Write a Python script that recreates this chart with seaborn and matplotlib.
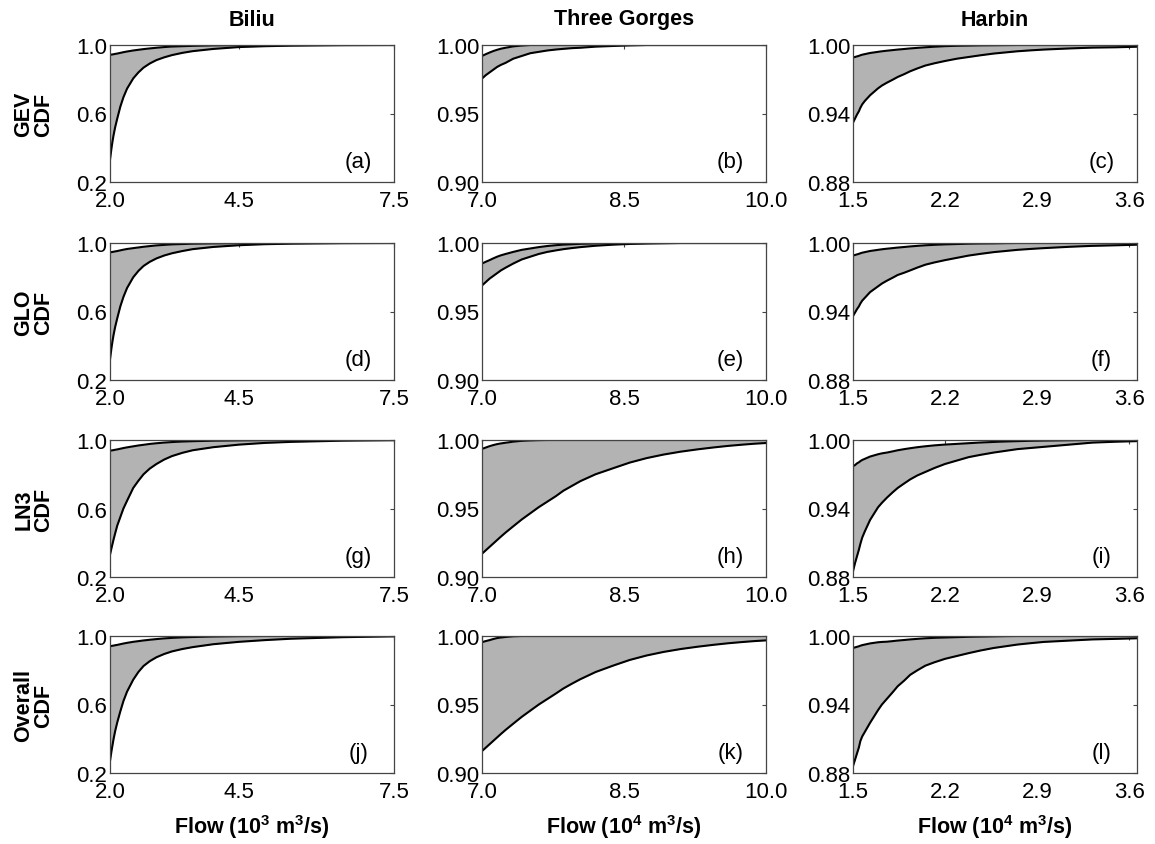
import matplotlib
matplotlib.use("Agg")
import matplotlib.pyplot as plt
import seaborn as sns

# ---------------- data ----------------
stations = ["Biliu", "Three Gorges", "Harbin"]
models = ["GEV", "GLO", "LN3", "Overall"]
panel_tags = ["(a)", "(b)", "(c)", "(d)", "(e)", "(f)",
              "(g)", "(h)", "(i)", "(j)", "(k)", "(l)"]
xlabels = ["Flow (10$^\\mathbf{3}$ m$^\\mathbf{3}$/s)",
           "Flow (10$^\\mathbf{4}$ m$^\\mathbf{3}$/s)",
           "Flow (10$^\\mathbf{4}$ m$^\\mathbf{3}$/s)"]

x_biliu = [2.0, 2.015, 2.03, 2.05, 2.07, 2.1, 2.14, 2.2, 2.26, 2.33, 2.45, 2.55, 2.65, 2.77, 2.9, 3.05, 3.2, 3.4, 3.6, 4.0, 4.5, 5.0, 5.5, 6.5, 7.5]
x_tg = [7.0, 7.04, 7.08, 7.12, 7.16, 7.2, 7.25, 7.33, 7.42, 7.51, 7.6, 7.69, 7.78, 7.86, 7.95, 8.04, 8.2, 8.39, 8.56, 8.74, 8.92, 9.1, 9.28, 9.45, 9.6, 9.75, 9.88, 10.0]
x_harbin = [1.5, 1.515, 1.53, 1.545, 1.556, 1.57, 1.59, 1.61, 1.63, 1.66, 1.69, 1.72, 1.758, 1.8, 1.84, 1.89, 1.935, 1.99, 2.05, 2.12, 2.2, 2.29, 2.38, 2.47, 2.57, 2.66, 2.75, 2.85, 2.95, 3.15, 3.32, 3.5, 3.66]

# Biliu
gev_biliu_lo = [0.33, 0.365, 0.40, 0.44, 0.475, 0.52, 0.57, 0.64, 0.695, 0.745, 0.805, 0.84, 0.868, 0.892, 0.912, 0.928, 0.941, 0.954, 0.964, 0.977, 0.988, 0.993, 0.996, 0.999, 1.0]
gev_biliu_hi = [0.942, 0.943, 0.944, 0.945, 0.946, 0.948, 0.950, 0.954, 0.958, 0.962, 0.968, 0.972, 0.976, 0.980, 0.984, 0.988, 0.991, 0.993, 0.995, 0.998, 0.999, 1.0, 1.0, 1.0, 1.0]
glo_biliu_lo = [0.32, 0.355, 0.39, 0.43, 0.465, 0.51, 0.56, 0.63, 0.685, 0.737, 0.80, 0.837, 0.866, 0.89, 0.91, 0.927, 0.940, 0.953, 0.964, 0.977, 0.987, 0.993, 0.996, 0.999, 1.0]
glo_biliu_hi = [0.945, 0.946, 0.947, 0.948, 0.949, 0.951, 0.953, 0.957, 0.961, 0.965, 0.970, 0.974, 0.978, 0.982, 0.986, 0.989, 0.992, 0.994, 0.996, 0.998, 0.999, 1.0, 1.0, 1.0, 1.0]
ln3_biliu_lo = [0.33, 0.35, 0.37, 0.395, 0.42, 0.455, 0.50, 0.55, 0.60, 0.645, 0.72, 0.762, 0.80, 0.833, 0.86, 0.886, 0.906, 0.925, 0.94, 0.958, 0.973, 0.983, 0.989, 0.996, 0.999]
ln3_biliu_hi = [0.937, 0.938, 0.939, 0.940, 0.941, 0.943, 0.945, 0.949, 0.953, 0.957, 0.963, 0.968, 0.972, 0.977, 0.981, 0.985, 0.988, 0.991, 0.993, 0.996, 0.998, 0.999, 1.0, 1.0, 1.0]
all_biliu_lo = [0.27, 0.30, 0.33, 0.365, 0.40, 0.445, 0.495, 0.56, 0.62, 0.675, 0.745, 0.79, 0.825, 0.853, 0.876, 0.895, 0.91, 0.924, 0.935, 0.952, 0.966, 0.976, 0.984, 0.993, 0.998]
all_biliu_hi = [0.94, 0.941, 0.942, 0.943, 0.944, 0.946, 0.948, 0.952, 0.956, 0.960, 0.966, 0.970, 0.974, 0.978, 0.982, 0.986, 0.989, 0.992, 0.994, 0.997, 0.999, 1.0, 1.0, 1.0, 1.0]

# Three Gorges
gev_tg_lo = [0.9755, 0.978, 0.980, 0.982, 0.984, 0.9855, 0.987, 0.990, 0.992, 0.994, 0.995, 0.996, 0.9967, 0.9972, 0.9977, 0.998, 0.9988, 0.9993, 0.9997, 1.0, 1.0, 1.0, 1.0, 1.0, 1.0, 1.0, 1.0, 1.0]
gev_tg_hi = [0.992, 0.9933, 0.9945, 0.9956, 0.9965, 0.9973, 0.998, 0.999, 0.9996, 1.0, 1.0, 1.0, 1.0, 1.0, 1.0, 1.0, 1.0, 1.0, 1.0, 1.0, 1.0, 1.0, 1.0, 1.0, 1.0, 1.0, 1.0, 1.0]
glo_tg_lo = [0.969, 0.9715, 0.974, 0.976, 0.978, 0.980, 0.982, 0.985, 0.988, 0.990, 0.992, 0.9935, 0.9946, 0.9955, 0.9963, 0.997, 0.998, 0.9988, 0.9993, 0.9996, 0.9998, 1.0, 1.0, 1.0, 1.0, 1.0, 1.0, 1.0]
glo_tg_hi = [0.985, 0.9863, 0.9875, 0.9888, 0.990, 0.991, 0.992, 0.9935, 0.995, 0.996, 0.997, 0.9978, 0.9984, 0.9988, 0.9991, 0.9994, 0.9997, 1.0, 1.0, 1.0, 1.0, 1.0, 1.0, 1.0, 1.0, 1.0, 1.0, 1.0]
ln3_tg_lo = [0.917, 0.9195, 0.922, 0.9245, 0.927, 0.9295, 0.9325, 0.937, 0.942, 0.9465, 0.951, 0.955, 0.959, 0.963, 0.9665, 0.970, 0.975, 0.9795, 0.9835, 0.9868, 0.9894, 0.9915, 0.9932, 0.9946, 0.9957, 0.9966, 0.9973, 0.9978]
ln3_tg_hi = [0.9935, 0.9945, 0.9955, 0.9963, 0.997, 0.9975, 0.998, 0.9988, 0.9994, 0.9997, 0.9999, 1.0, 1.0, 1.0, 1.0, 1.0, 1.0, 1.0, 1.0, 1.0, 1.0, 1.0, 1.0, 1.0, 1.0, 1.0, 1.0, 1.0]
all_tg_lo = [0.916, 0.9185, 0.921, 0.9235, 0.926, 0.9285, 0.9315, 0.936, 0.941, 0.9455, 0.950, 0.954, 0.958, 0.9617, 0.9652, 0.9685, 0.9737, 0.9785, 0.9825, 0.9858, 0.9884, 0.9905, 0.9922, 0.9936, 0.9947, 0.9956, 0.9963, 0.9968]
all_tg_hi = [0.9955, 0.9963, 0.997, 0.9978, 0.9985, 0.9989, 0.9993, 0.9998, 1.0, 1.0, 1.0, 1.0, 1.0, 1.0, 1.0, 1.0, 1.0, 1.0, 1.0, 1.0, 1.0, 1.0, 1.0, 1.0, 1.0, 1.0, 1.0, 1.0]

# Harbin
gev_hb_lo = [0.932, 0.9355, 0.939, 0.942, 0.945, 0.948, 0.951, 0.9535, 0.956, 0.959, 0.962, 0.9645, 0.967, 0.9695, 0.972, 0.9745, 0.977, 0.9795, 0.982, 0.984, 0.986, 0.988, 0.9895, 0.991, 0.9925, 0.9935, 0.9945, 0.9953, 0.996, 0.997, 0.9977, 0.998, 0.9985]
gev_hb_hi = [0.989, 0.9895, 0.990, 0.9905, 0.991, 0.9915, 0.992, 0.9925, 0.993, 0.9935, 0.994, 0.9945, 0.995, 0.9955, 0.996, 0.9965, 0.997, 0.9975, 0.998, 0.9985, 0.999, 0.9993, 0.9995, 0.9997, 0.9998, 0.9999, 1.0, 1.0, 1.0, 1.0, 1.0, 1.0, 1.0]
glo_hb_lo = [0.936, 0.939, 0.942, 0.9445, 0.947, 0.9495, 0.952, 0.9545, 0.957, 0.9595, 0.962, 0.9645, 0.967, 0.9695, 0.972, 0.974, 0.976, 0.9785, 0.981, 0.983, 0.985, 0.987, 0.989, 0.9905, 0.992, 0.993, 0.994, 0.9948, 0.9955, 0.9967, 0.9975, 0.998, 0.9985]
glo_hb_hi = [0.989, 0.9895, 0.990, 0.9905, 0.991, 0.9915, 0.992, 0.9925, 0.993, 0.9935, 0.994, 0.9945, 0.995, 0.9955, 0.996, 0.9965, 0.997, 0.9975, 0.998, 0.9984, 0.9988, 0.9991, 0.9994, 0.9996, 0.9997, 0.9999, 1.0, 1.0, 1.0, 1.0, 1.0, 1.0, 1.0]
ln3_hb_lo = [0.885, 0.892, 0.898, 0.904, 0.909, 0.9145, 0.920, 0.925, 0.930, 0.9355, 0.941, 0.945, 0.9495, 0.954, 0.958, 0.962, 0.9655, 0.969, 0.972, 0.9755, 0.979, 0.982, 0.985, 0.987, 0.989, 0.9905, 0.992, 0.993, 0.994, 0.996, 0.9977, 0.9985, 0.999]
ln3_hb_hi = [0.977, 0.978, 0.9795, 0.9805, 0.9815, 0.9825, 0.9835, 0.9845, 0.9855, 0.9865, 0.9875, 0.9883, 0.989, 0.990, 0.991, 0.992, 0.9928, 0.9937, 0.9945, 0.9953, 0.996, 0.9966, 0.9972, 0.9978, 0.9983, 0.9987, 0.999, 0.9993, 0.9995, 0.9998, 1.0, 1.0, 1.0]
all_hb_lo = [0.886, 0.8915, 0.897, 0.9025, 0.908, 0.912, 0.916, 0.920, 0.924, 0.9295, 0.935, 0.940, 0.945, 0.9505, 0.956, 0.961, 0.966, 0.970, 0.974, 0.977, 0.980, 0.9825, 0.985, 0.9873, 0.9895, 0.991, 0.9925, 0.9937, 0.9948, 0.996, 0.997, 0.9975, 0.998]
all_hb_hi = [0.9895, 0.990, 0.9905, 0.991, 0.9915, 0.992, 0.9925, 0.993, 0.9935, 0.994, 0.9945, 0.9948, 0.995, 0.9955, 0.996, 0.9965, 0.997, 0.9975, 0.998, 0.9984, 0.9987, 0.999, 0.9993, 0.9995, 0.9997, 0.9999, 1.0, 1.0, 1.0, 1.0, 1.0, 1.0, 1.0]

# axis settings per station
xlims = [(2.0, 7.5), (7.0, 10.0), (1.5, 3.66)]
ylims = [(0.2, 1.0), (0.90, 1.00), (0.88, 1.00)]
xticks = [[2.0, 4.5, 7.5], [7.0, 8.5, 10.0], [1.5, 2.2, 2.9, 3.6]]
yticks = [[0.2, 0.6, 1.0], [0.90, 0.95, 1.00], [0.88, 0.94, 1.00]]
xfmt = ["{:.1f}", "{:.1f}", "{:.1f}"]
yfmt = ["{:.1f}", "{:.2f}", "{:.2f}"]

xs = [x_biliu, x_tg, x_harbin]
bands = [
    [(gev_biliu_lo, gev_biliu_hi), (gev_tg_lo, gev_tg_hi), (gev_hb_lo, gev_hb_hi)],
    [(glo_biliu_lo, glo_biliu_hi), (glo_tg_lo, glo_tg_hi), (glo_hb_lo, glo_hb_hi)],
    [(ln3_biliu_lo, ln3_biliu_hi), (ln3_tg_lo, ln3_tg_hi), (ln3_hb_lo, ln3_hb_hi)],
    [(all_biliu_lo, all_biliu_hi), (all_tg_lo, all_tg_hi), (all_hb_lo, all_hb_hi)],
]

# ---------------- style ----------------
sns.set_theme(style="white")
plt.rcParams["font.family"] = ["Liberation Sans", "DejaVu Sans"]
plt.rcParams["mathtext.fontset"] = "custom"
plt.rcParams["mathtext.bf"] = "Liberation Sans:bold"
plt.rcParams["mathtext.rm"] = "Liberation Sans"
plt.rcParams["text.color"] = "black"
plt.rcParams["axes.labelcolor"] = "black"
plt.rcParams["xtick.color"] = "black"
plt.rcParams["ytick.color"] = "black"

W, H = 1155, 845
fig = plt.figure(figsize=(W / 100, H / 100), dpi=100)
fig.patch.set_facecolor("white")

col_left = [110, 482, 853]
col_w = 284
row_top = [46, 244, 441, 637]
row_h = 137

tick_fs = 16
lab_fs = 15.5
fill_col = "#b3b3b3"

for r in range(4):
    for c in range(3):
        ax = fig.add_axes([col_left[c] / W, 1 - (row_top[r] + row_h) / H, col_w / W, row_h / H])
        lo, hi = bands[r][c]
        x = xs[c]
        ax.fill_between(x, lo, hi, color=fill_col, linewidth=0)
        sns.lineplot(x=x, y=hi, ax=ax, color="black", linewidth=1.5)
        sns.lineplot(x=x, y=lo, ax=ax, color="black", linewidth=1.5)
        ax.set_xlim(*xlims[c])
        ax.set_ylim(*ylims[c])
        ax.set_xticks(xticks[c])
        ax.set_yticks(yticks[c])
        ax.set_xticklabels([xfmt[c].format(v) for v in xticks[c]], fontsize=tick_fs)
        ax.set_yticklabels([yfmt[c].format(v) for v in yticks[c]], fontsize=tick_fs)
        ax.tick_params(direction="in", length=3, width=0.8, color="#444444",
                       top=True, right=True, labelcolor="black")
        ax.tick_params(axis="y", pad=2)
        ax.tick_params(axis="x", pad=6)
        for s in ax.spines.values():
            s.set_color("#444444")
            s.set_linewidth(0.9)
        ax.text(0.875, 0.15, panel_tags[r * 3 + c], transform=ax.transAxes,
                ha="center", va="center", fontsize=tick_fs, color="black")
        ax.set_xlabel("")
        if c == 0:
            ax.set_ylabel(models[r] + "\nCDF", fontsize=lab_fs, fontweight="bold",
                          linespacing=0.95, color="black")
            ax.yaxis.set_label_coords(-0.195, 0.5)
        else:
            ax.set_ylabel("")
        if r == 3:
            fig.text((col_left[c] + col_w / 2) / W, 1 - 827 / H, xlabels[c],
                     ha="center", va="center", fontsize=lab_fs, fontweight="bold",
                     color="black")
        if r == 0:
            fig.text((col_left[c] + col_w / 2) / W, 1 - 20 / H, stations[c],
                     ha="center", va="center", fontsize=lab_fs, fontweight="bold",
                     color="black")

fig.savefig("out.png", dpi=100, facecolor="white")
